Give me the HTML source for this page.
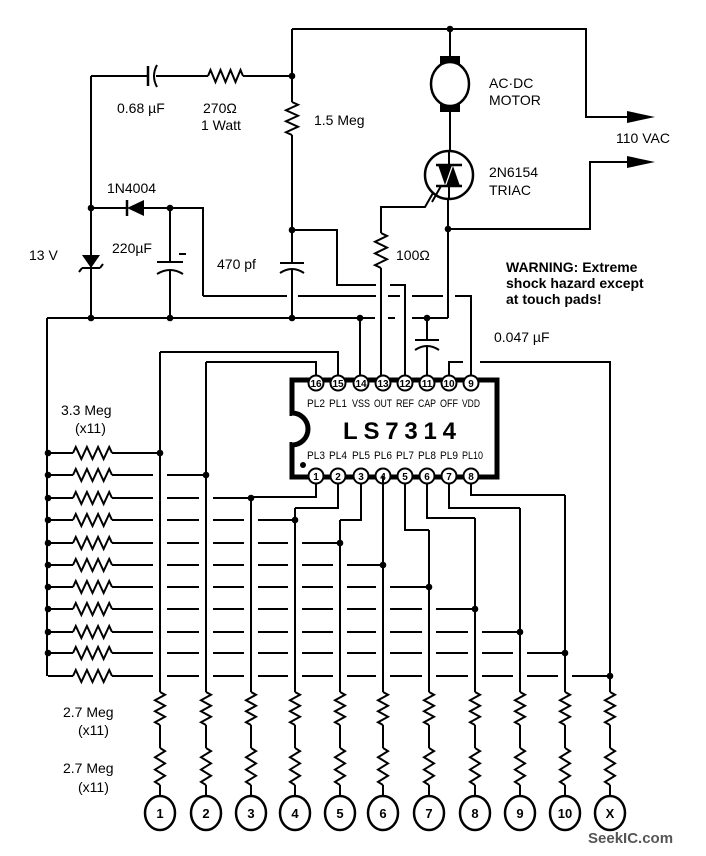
<!DOCTYPE html>
<html><head><meta charset="utf-8"><style>
html,body{margin:0;padding:0;background:#fff}
svg{display:block}
text{font-family:"Liberation Sans",sans-serif;fill:#000}
</style></head><body>
<svg id="s" width="706" height="856" viewBox="0 0 706 856" xmlns="http://www.w3.org/2000/svg">
<g id="w" fill="none" stroke="#000" stroke-width="2">
<path d="M292 29 H586 V117 H632"/>
<path d="M448 229 H590 V162 H632"/>
<path d="M450 29 V57 M450 112 V151 M448 199 V318"/>
<path d="M91 76 H148 M156 76 H208"/>
<path d="M243 76 H292"/>
<path d="M292 29 V102 M292 135 V263 M292 270 V318"/>
<path d="M148 66 V86" stroke-width="2.5"/>
<path d="M157 65 Q151 76 157 87"/>
<path d="M280 263 H304"/>
<path d="M280 273 Q292 265 304 273"/>
<path d="M91 76 V318"/>
<path d="M91 208 H127 M144 208 H203 V296"/>
<path d="M127 200 V216" stroke-width="2.5"/>
<path d="M82 268 H100 M82 268 L79 272 M100 268 L103 264" />
<path d="M170 208 V262 M170 270 V318"/>
<path d="M157 262 H183"/>
<path d="M157 274 Q170 266 183 274"/>
<path d="M179 254 H186"/>
<path d="M47 318 H375 M388 318 H395 M412 318 H448"/>
<path d="M47 318 V676"/>
<path d="M292 230 H337 V285 H376 M390 285 H405 V384"/>
<path d="M203 296 H287 M298 296 H376 M388 296 H400 M412 296 H443 M455 296 H471 V384"/>
<path d="M437 186 L425 207 H381 V233 M381 268 V384"/>
<path d="M360 318 V384"/>
<path d="M427 318 V340 M427 347 V384"/>
<path d="M415 340 H439"/>
<path d="M415 350 Q427 342 439 350"/>
<path d="M449 384 V362 H463"/>
<path d="M480 362 H610 V692"/>
<path d="M316 384 V362 H206"/>
<path d="M338 384 V352 H160"/>
<path d="M316 476 V497 H251"/>
<path d="M338 476 V508 H295"/>
<path d="M361 476 V520 H340"/>
<path d="M405 476 V530 H429"/>
<path d="M427 476 V518 H475"/>
<path d="M449 476 V508 H520"/>
<path d="M471 476 V495 H565"/>
</g>
<g id="f" fill="#000" stroke="none">
<polygon points="627,111 655,117 627,123"/>
<polygon points="627,156 655,162 627,168"/>
<polygon points="127,208 144,200 144,216"/>
<polygon points="82,255 100,255 91,268"/>
<rect x="440" y="56" width="20" height="9"/>
<rect x="440" y="103" width="20" height="9"/>
</g>
<ellipse cx="450" cy="84" rx="19" ry="22" fill="#fff" stroke="#000" stroke-width="2.5"/>
<circle cx="449" cy="175" r="24" fill="#fff" stroke="#000" stroke-width="2.5"/>
<path d="M436 165 H462 M436 186 H462" stroke="#000" stroke-width="2.5"/>
<polygon points="438,165 452,165 445,185" fill="#000"/>
<polygon points="446,186 460,186 453,166" fill="#000"/>
<path d="M449 151 V165 M449 186 V199 M441 186 L432 202" stroke="#000" stroke-width="2"/>
<rect x="292" y="380" width="205" height="97" fill="#fff" stroke="#000" stroke-width="5"/>
<path d="M292 413 A16 16 0 0 1 292 445" fill="#fff" stroke="#000" stroke-width="5"/>
<rect x="287" y="416" width="6" height="26" fill="#fff"/>
<circle cx="303" cy="465" r="3" fill="#000"/>
<g id="pins"></g>
<text x="343" y="439" font-size="24" font-weight="bold" textLength="113">LS7314</text>
<g id="dyn" fill="none" stroke="#000" stroke-width="2"></g>
<g id="dots" fill="#000"></g>
<g font-size="14">
<text x="117" y="113">0.68 µF</text>
<text x="203" y="113">270Ω</text>
<text x="201" y="130">1 Watt</text>
<text x="314" y="125">1.5 Meg</text>
<text x="489" y="88">AC·DC</text>
<text x="489" y="105">MOTOR</text>
<text x="616" y="143">110 VAC</text>
<text x="489" y="177">2N6154</text>
<text x="489" y="195">TRIAC</text>
<text x="107" y="193">1N4004</text>
<text x="29" y="260">13 V</text>
<text x="112" y="253">220µF</text>
<text x="217" y="269">470 pf</text>
<text x="396" y="260">100Ω</text>
<text x="494" y="342">0.047 µF</text>
<text x="61" y="415">3.3 Meg</text>
<text x="75" y="433">(x11)</text>
<text x="63" y="717">2.7 Meg</text>
<text x="78" y="735">(x11)</text>
<text x="63" y="773">2.7 Meg</text>
<text x="78" y="792">(x11)</text>
</g>
<g font-size="14" font-weight="bold">
<text x="506" y="272">WARNING: Extreme</text>
<text x="506" y="288">shock hazard except</text>
<text x="506" y="304">at touch pads!</text>
</g>
<text x="588" y="843" font-size="15" font-weight="bold" style="fill:#555">SeekIC.com</text>
<g id="pads" font-size="13" font-weight="bold" text-anchor="middle"></g>
</svg>
<script>
(function(){
var NS="http://www.w3.org/2000/svg";
function el(p,t,a,txt){var e=document.createElementNS(NS,t);for(var k in a)e.setAttribute(k,a[k]);if(txt!=null)e.textContent=txt;document.getElementById(p).appendChild(e);return e;}
function zv(x,y1,y2,n,a){n=n||6;a=a||5;var d="M"+x+" "+y1,h=(y2-y1)/n;for(var i=0;i<n;i++){d+=" L"+(x+(i%2?-a:a))+" "+(y1+(i+0.5)*h);}d+=" L"+x+" "+y2;return d;}
function zh(y,x1,x2,n,a){n=n||7;a=a||6;var d="M"+x1+" "+y,h=(x2-x1)/n;for(var i=0;i<n;i++){d+=" L"+(x1+(i+0.5)*h)+" "+(y+(i%2?a:-a));}d+=" L"+x2+" "+y;return d;}
var p="";
p+=zh(76,208,243,7,6)+" ";
p+=zv(292,102,135,6,6)+" ";
p+=zv(381,233,268,6,6)+" ";
var cols=[160,206,251,295,340,383,429,475,520,565,610];
var starts=[352,362,497,508,520,476,530,518,508,495,362];
var rows=[453,475,498,520,543,565,587,609,632,653,676];
for(var k=0;k<11;k++){
 var y=rows[k];
 p+="M48 "+y+" H73 "+zh(y,73,112,7,6)+" ";
 var x=112;
 for(var j=0;j<k;j++){p+="M"+x+" "+y+" H"+(cols[j]-7)+" ";x=cols[j]+7;}
 p+="M"+x+" "+y+" H"+cols[k]+" ";
 if(k<10)el("dots","circle",{cx:48,cy:y,r:3.3});
 el("dots","circle",{cx:cols[k],cy:y,r:3.3});
 var c=cols[k];
 if(k!=10)p+="M"+c+" "+starts[k]+" V692 ";
 p+=zv(c,692,725,6,5)+" M"+c+" 725 V748 "+zv(c,748,785,6,5)+" M"+c+" 785 V796 ";
 el("pads","ellipse",{cx:c,cy:813,rx:15,ry:17,fill:"#fff",stroke:"#000","stroke-width":2.5});
 el("pads","text",{x:c,y:818},k==10?"X":String(k+1));
}
el("dyn","path",{d:p});
[[292,76],[450,29],[292,230],[91,208],[170,208],[448,229],[91,318],[170,318],[292,318],[360,318],[427,318]].forEach(function(q){el("dots","circle",{cx:q[0],cy:q[1],r:3.3});});
var px=[316,338,361,383,405,427,449,471];
var topNums=[16,15,14,13,12,11,10,9];
var tl=["PL2","PL1","VSS","OUT","REF","CAP","OFF","VDD"];
var bl=["PL3","PL4","PL5","PL6","PL7","PL8","PL9","PL10"];
for(var i=0;i<8;i++){
 el("pins","circle",{cx:px[i],cy:383,r:7.5,fill:"#fff",stroke:"#000","stroke-width":2});
 el("pins","text",{x:px[i],y:387,"font-size":10,"font-weight":"bold","text-anchor":"middle"},String(topNums[i]));
 el("pins","circle",{cx:px[i],cy:476,r:7.5,fill:"#fff",stroke:"#000","stroke-width":2});
 el("pins","text",{x:px[i],y:480,"font-size":10,"font-weight":"bold","text-anchor":"middle"},String(i+1));
 el("pins","text",{x:px[i]-9,y:407,"font-size":11,textLength:18,lengthAdjust:"spacingAndGlyphs"},tl[i]);
 el("pins","text",{x:px[i]-9,y:459,"font-size":11,textLength:(i==7?21:18),lengthAdjust:"spacingAndGlyphs"},bl[i]);
}
})();
</script>
</body></html>
